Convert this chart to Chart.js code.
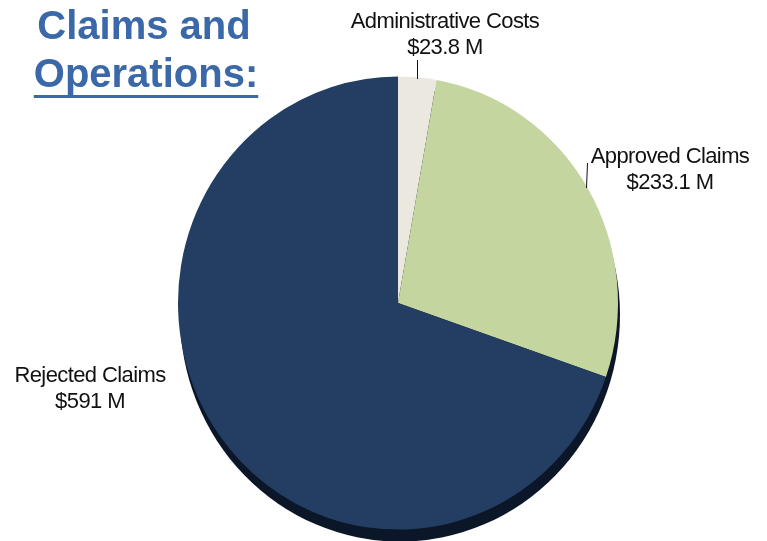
<!DOCTYPE html>
<html>
<head>
<meta charset="utf-8">
<script src="https://cdn.jsdelivr.net/npm/chart.js@4"></script>
<style>
	html, body { margin: 0; padding: 0; background: #fff; }
	#wrap { width: 767px; height: 541px; position: relative; }
</style>
</head>
<body>
<div id="wrap"><canvas id="pieChart" width="767" height="541"></canvas></div>
<script>
// chart data
const categories = ['Administrative Costs', 'Approved Claims', 'Rejected Claims'];
const amounts = [23.8, 233.1, 591];
const amountLabels = ['$23.8 M', '$233.1 M', '$591 M'];
const sliceColors = ['#ebe8df', '#c4d59f', '#233d63'];

// where each label sits and its little leader line
const labelSpots = [
	{ x: 445, y: 22, line: [417, 60, 417, 79] },
	{ x: 670, y: 157, line: [587, 163, 586, 188] },
	{ x: 90, y: 376, line: null }
];

// the pie is a little taller than wide in the picture
const squashY = 1.03;

const shadowPlugin = {
	id: 'shadow3d',
	beforeDatasetsDraw(chart) {
		const arc = chart.getDatasetMeta(0).data[0];
		if (!arc) return;
		const ctx = chart.ctx;
		ctx.save();
		ctx.fillStyle = '#0b1628';
		ctx.beginPath();
		ctx.ellipse(arc.x + 2, arc.y + 12, arc.outerRadius, arc.outerRadius * squashY, 0, 0, Math.PI * 2);
		ctx.fill();
		ctx.translate(arc.x, arc.y);
		ctx.scale(1, squashY);
		ctx.translate(-arc.x, -arc.y);
	},
	afterDatasetsDraw(chart) {
		chart.ctx.restore();
	}
};

const labelPlugin = {
	id: 'sliceLabels',
	afterDraw(chart) {
		const ctx = chart.ctx;
		ctx.save();
		// title
		ctx.fillStyle = '#3a68a8';
		ctx.font = 'bold 40px "Liberation Sans", Arial, sans-serif';
		ctx.textAlign = 'center';
		ctx.textBaseline = 'middle';
		ctx.fillText('Claims and', 144, 28);
		ctx.fillText('Operations:', 146, 76);
		let w = ctx.measureText('Operations:').width;
		ctx.fillRect(146 - w / 2, 95, w, 3);

		// slice labels
		ctx.fillStyle = '#111';
		ctx.strokeStyle = '#111';
		ctx.lineWidth = 1;
		ctx.font = '22px "Liberation Sans", Arial, sans-serif';
		ctx.letterSpacing = '-0.6px';
		categories.forEach((name, i) => {
			const s = labelSpots[i];
			ctx.fillText(name, s.x, s.y);
			ctx.fillText(amountLabels[i], s.x, s.y + 26);
			if (s.line) {
				ctx.beginPath();
				ctx.moveTo(s.line[0] + 0.5, s.line[1]);
				ctx.lineTo(s.line[2] + 0.5, s.line[3]);
				ctx.stroke();
			}
		});
		ctx.restore();
	}
};

new Chart(document.getElementById('pieChart'), {
	type: 'pie',
	data: {
		labels: categories,
		datasets: [{
			data: amounts,
			backgroundColor: sliceColors,
			borderWidth: 0
		}]
	},
	options: {
		responsive: false,
		animation: false,
		layout: { padding: { left: 178, right: 149, top: 83, bottom: 18 } },
		plugins: {
			legend: { display: false },
			tooltip: { enabled: false },
			title: { display: false }
		}
	},
	plugins: [shadowPlugin, labelPlugin]
});
</script>
</body>
</html>
